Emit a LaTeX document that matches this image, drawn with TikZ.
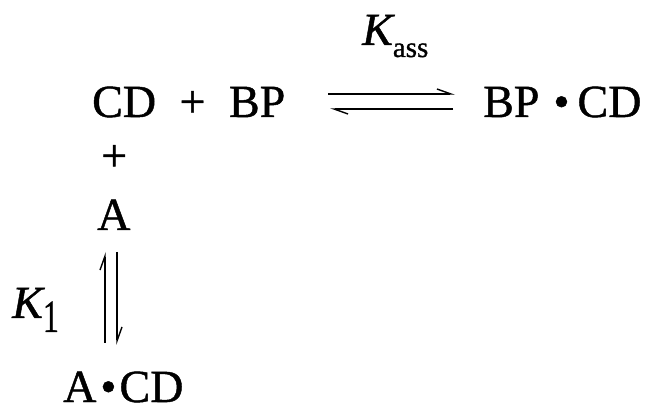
\documentclass[tikz,border=0pt]{standalone}
\usepackage{fontspec}
\usepackage{graphicx}
\setmainfont[FakeBold=1]{Liberation Serif}
\usetikzlibrary{arrows.meta,positioning}
\tikzset{
  species/.style={inner sep=0pt,anchor=base west,font=\fontsize{46}{50}\selectfont},
  harp/.style={line width=1.2pt,-{Straight Barb[harpoon,length=14pt,width=10pt,line width=1.4pt]}}
}
\newcommand{\bdot}{\textbullet}
\newcommand{\bigK}{{\fontsize{46}{48}\selectfont\itshape K}}

\begin{document}
\begin{tikzpicture}[x=1pt,y=1pt]
  \useasboundingbox (0,0) rectangle (645,407);
  % association row
  \node[species] (cdbp) at (92,290) {CD\hspace{23.5pt}+\hspace{23.5pt}BP};
  \node[species] (bpcd) at (483,290) {BP\hspace{14pt}\bdot\hspace{8pt}CD};
  \node[species] (kass) at (362,362) {\bigK\raisebox{-12pt}{\fontsize{29}{30}\selectfont ass}};
  % inclusion column
  \node[species] (plus) at (101,236) {+};
  \node[species] (a) at (97,177) {A};
  \node[species] (kone) at (12,89) {\bigK\raisebox{-14pt}{\scalebox{0.7}[1]{1}}};
  \node[species] (acd) at (63,5) {A\hspace{4pt}\bdot\hspace{3pt}CD};
  % equilibrium harpoons
  \draw[harp] ([xshift=236pt,yshift=23pt]cdbp.base west) -- ([xshift=-28pt,yshift=23pt]bpcd.base west);
  \draw[harp] ([xshift=-30pt,yshift=8pt]bpcd.base west) -- ([xshift=238pt,yshift=8pt]cdbp.base west);
  \draw[harp] ([xshift=42pt,yshift=59pt]acd.base west) -- ([xshift=8pt,yshift=-22pt]a.base west);
  \draw[harp] ([xshift=20pt,yshift=-22pt]a.base west) -- ([xshift=54pt,yshift=57pt]acd.base west);
\end{tikzpicture}
\end{document}
